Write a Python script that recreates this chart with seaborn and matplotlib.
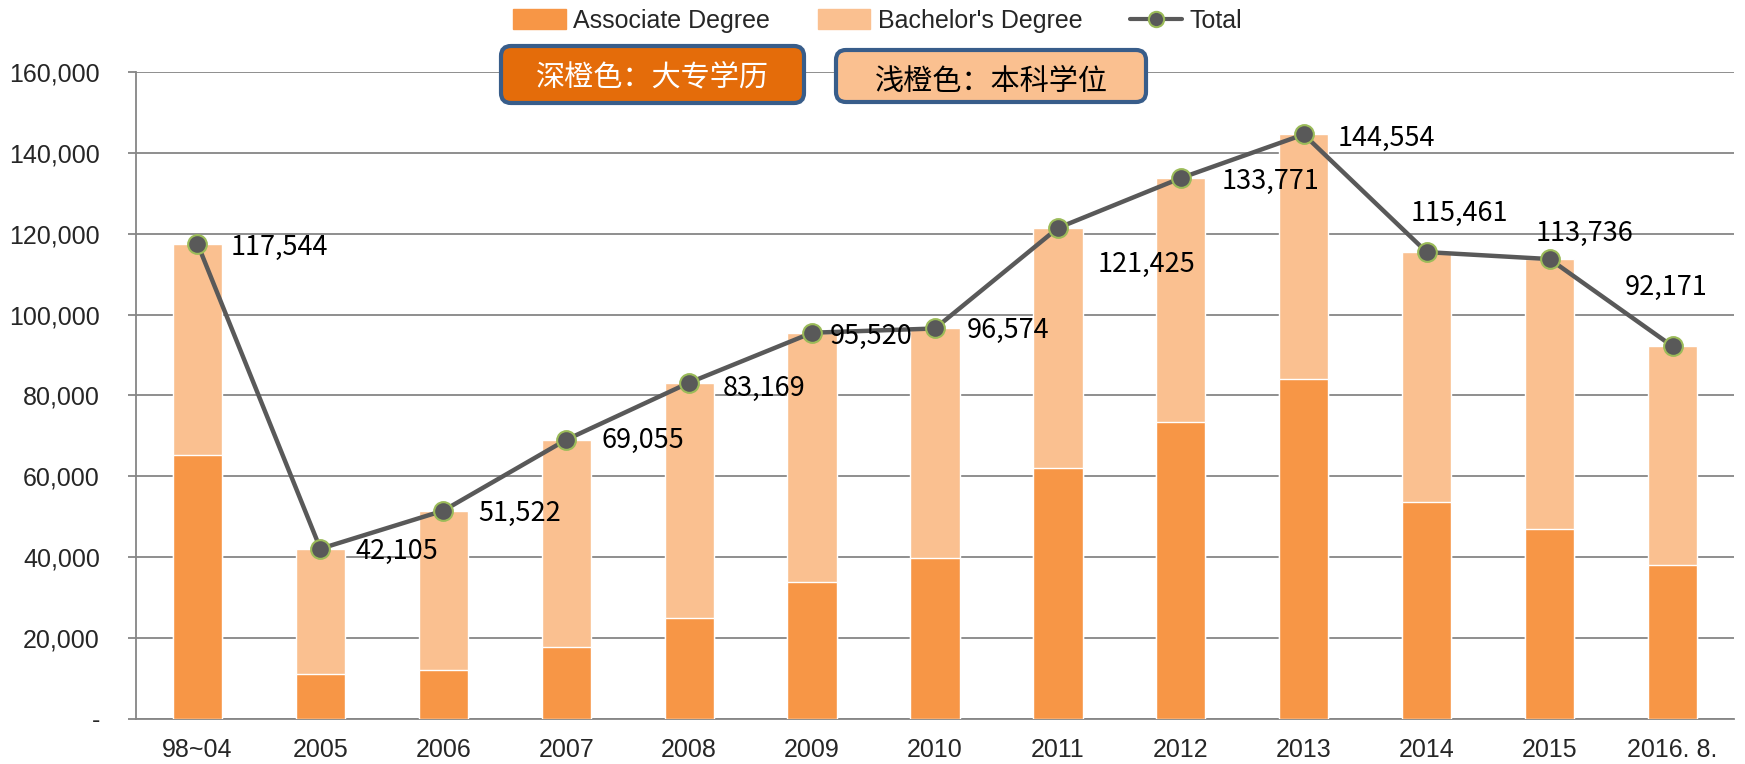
import numpy as np
import pandas as pd
import seaborn as sns
import matplotlib
matplotlib.use("Agg")
from matplotlib import pyplot as plt
from matplotlib.patches import Patch, FancyBboxPatch
from matplotlib.lines import Line2D
from matplotlib.transforms import IdentityTransform
from matplotlib.ticker import FuncFormatter

# data
years = ['98~04', '2005', '2006', '2007', '2008', '2009', '2010',
         '2011', '2012', '2013', '2014', '2015', '2016. 8.']
total = [117544, 42105, 51522, 69055, 83169, 95520, 96574,
         121425, 133771, 144554, 115461, 113736, 92171]
associate = [65300, 11200, 12200, 17700, 24900, 34000, 39700,
             62000, 73400, 84100, 53600, 47100, 38200]
bachelor = [t - a for t, a in zip(total, associate)]

# label offsets in pixels (dx, dy) from each point
label_off = [(82, -4), (76, -3), (76, -3), (77, -1), (75, -6), (59, -4), (73, -2),
             (89, -36), (90, -3), (83, -4), (33, 39), (35, 26), (-6, 59)]

c_assoc = '#F79646'
c_bach = '#FAC090'
c_line = '#595959'
c_edge = '#9BBB59'
c_grid = '#868686'

df = pd.DataFrame({'year': years, 'associate': associate, 'bachelor': bachelor, 'total': total})
df['stack'] = df['associate'] + df['bachelor']

sns.set_style('white')
plt.rcParams['font.family'] = ['Liberation Sans', 'Noto Sans CJK SC', 'DejaVu Sans']

fig = plt.figure(figsize=(17.45, 7.64), dpi=100)
ax = fig.add_axes([136 / 1745, 45 / 764, (1734 - 136) / 1745, (719 - 72) / 764])

# stacked bars: full stack in light colour, associate part on top of it
sns.barplot(data=df, x='year', y='stack', color=c_bach, width=0.4, saturation=1, ax=ax, zorder=2)
sns.barplot(data=df, x='year', y='associate', color=c_assoc, width=0.4, saturation=1, ax=ax, zorder=3)

xs = np.arange(len(years))
sns.lineplot(x=xs, y=df['total'].values, ax=ax, color=c_line, lw=3.2, marker='o', markersize=13.5,
             markerfacecolor=c_line, markeredgecolor=c_edge, markeredgewidth=1.5, zorder=5)

for i, v in enumerate(total):
    dx, dy = label_off[i]
    ax.annotate(f'{v:,}', (xs[i], v), xytext=(dx, dy), textcoords='offset pixels',
                ha='center', va='center', fontsize=19.5, family=['Noto Sans CJK SC', 'DejaVu Sans'],
                color='black', zorder=6)

ax.set_xlim(-0.5, len(years) - 0.5)
ax.set_ylim(0, 160000)
ax.set_yticks(np.arange(0, 160001, 20000))
ax.yaxis.set_major_formatter(FuncFormatter(lambda v, p: '-' if v == 0 else f'{int(v):,}'))
ax.grid(axis='y', color=c_grid, lw=1.3, zorder=0)
ax.set_axisbelow(True)
ax.set_xlabel('')
ax.set_ylabel('')

for s in ['top', 'right']:
    ax.spines[s].set_visible(False)
for s in ['left', 'bottom']:
    ax.spines[s].set_color(c_grid)
    ax.spines[s].set_linewidth(1.3)

ax.set_xticks(xs)
ax.set_xticklabels(years)
ax.set_xticks(np.arange(-0.5, len(years)), minor=True)
ax.tick_params(axis='x', which='major', length=0, pad=14, labelsize=18)
ax.tick_params(axis='x', which='minor', length=7, width=1.3, color=c_grid, direction='out')
ax.tick_params(axis='y', length=6, width=1.3, color=c_grid, direction='out', pad=20, labelsize=18, left=True)

handles = [Patch(color=c_assoc, label='Associate Degree'),
           Patch(color=c_bach, label="Bachelor's Degree"),
           Line2D([0], [0], color=c_line, lw=3, marker='o', markersize=11,
                  markerfacecolor=c_line, markeredgecolor=c_edge, markeredgewidth=1.5, label='Total')]
fig.legend(handles=handles, loc='center', bbox_to_anchor=(0.503, 0.973), ncol=3, frameon=False,
           fontsize=18, handlelength=2.1, handleheight=0.8, columnspacing=1.9, handletextpad=0.3)

# the two colour-note boxes (pixel positions, y measured from the top)
H = 764
boxes = [(501, 46, 804, 103, '#E46C0A', 'white', '深橙色：大专学历', 77),
         (836, 50, 1146, 102, '#FAC090', 'black', '浅橙色：本科学位', 82)]
for x0, y0, x1, y1, fc, tc, txt, ty in boxes:
    p = FancyBboxPatch((x0 + 4, H - y1 + 4), (x1 - x0) - 8, (y1 - y0) - 8,
                       boxstyle='round,pad=4,rounding_size=10', fc=fc, ec='#385D8A', lw=3,
                       transform=IdentityTransform(), zorder=10)
    fig.add_artist(p)
    fig.text((x0 + x1) / 2 / 1745, 1 - ty / H, txt, ha='center', va='center', color=tc,
             fontsize=21, family=['Noto Sans CJK SC', 'DejaVu Sans'], zorder=11)

fig.savefig('out.png', dpi=100)
